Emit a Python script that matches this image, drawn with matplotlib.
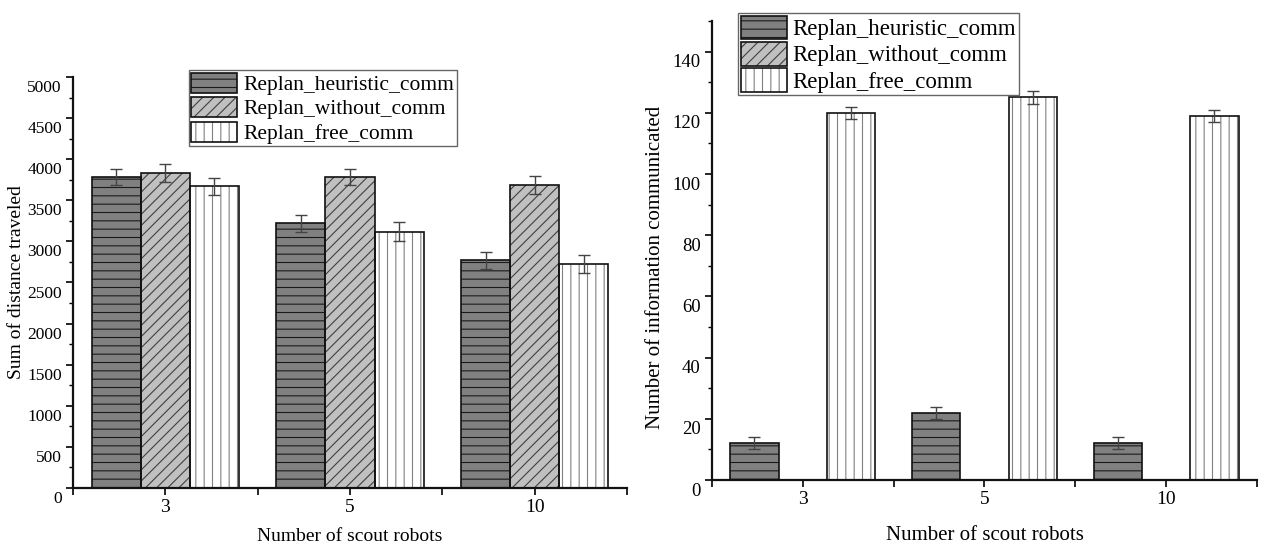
import numpy as np
import matplotlib.pyplot as plt
from matplotlib.ticker import MultipleLocator
from matplotlib.transforms import ScaledTranslation

plt.rcParams['font.family'] = 'Liberation Serif'
plt.rcParams['hatch.linewidth'] = 0.8

# data
groups = ['3', '5', '10']
series = ['Replan_heuristic_comm', 'Replan_without_comm', 'Replan_free_comm']

dist_heuristic = [3780, 3220, 2770]
dist_without = [3830, 3780, 3690]
dist_free = [3670, 3120, 2720]
dist_err_heuristic = [100, 100, 100]
dist_err_without = [110, 100, 110]
dist_err_free = [100, 110, 110]

comm_heuristic = [12, 22, 12]
comm_without = [0, 0, 0]
comm_free = [120, 125, 119]
comm_err_heuristic = [2, 2, 2]
comm_err_without = [0, 0, 0]
comm_err_free = [2, 2, 2]

# bar styles
fills = ['#808080', '#c0c0c0', 'white']
hatches = ['--', '///', '||']
hatch_colors = ['#1a1a1a', '#404040', '#808080']


def draw_panel(ax, values, errors, ymax, major, minor, fs_xtick, fs_ytick,
               fs_label, fs_leg, ylabel, ylabel_pos, xlabel_y, leg_anchor,
               leg_geom):
    x = np.arange(len(groups))
    width = 0.266
    handles = []
    for i, (vals, errs) in enumerate(zip(values, errors)):
        pos = x + (i - 1) * width
        under = ax.bar(pos, vals, width, color=fills[i], hatch=hatches[i],
                       edgecolor=hatch_colors[i], linewidth=0, zorder=2)
        edge = ax.bar(pos, vals, width, fill=False, edgecolor='#111111',
                      linewidth=1.2, zorder=3)
        if any(errs):
            ax.errorbar(pos, vals, yerr=errs, fmt='none', ecolor='#444444',
                        elinewidth=1, capsize=4, capthick=1, zorder=4)
        handles.append((under[0], edge[0]))

    # axes look
    for side in ['top', 'right']:
        ax.spines[side].set_visible(False)
    for side in ['left', 'bottom']:
        ax.spines[side].set_linewidth(1.6)
        ax.spines[side].set_color('#111111')

    ax.set_xlim(-0.5, 2.5)
    ax.set_xticks(x, groups)
    ax.set_xticks([-0.5, 0.5, 1.5, 2.5], minor=True)
    ax.set_ylim(0, ymax)
    ax.set_yticks(np.arange(0, ymax + 1, major))
    ax.yaxis.set_minor_locator(MultipleLocator(minor))
    ax.tick_params(axis='x', which='both', direction='out', length=5,
                   width=1.2, labelsize=fs_xtick, pad=3)
    ax.tick_params(axis='y', which='major', direction='out', length=5,
                   width=1.2, labelsize=fs_ytick, pad=3)
    ax.tick_params(axis='y', which='minor', direction='out', length=3,
                   width=1.0)

    # y tick labels sit a bit below their ticks in the original
    offset = ScaledTranslation(0, -6.5 / 72, ax.figure.dpi_scale_trans)
    for t in ax.yaxis.get_major_ticks():
        t.label1.set_transform(t.label1.get_transform() + offset)

    ax.set_ylabel(ylabel, fontsize=fs_label)
    ax.yaxis.set_label_coords(*ylabel_pos)
    ax.set_xlabel('Number of scout robots', fontsize=fs_label)
    ax.xaxis.set_label_coords(0.5, xlabel_y)

    hl, hh, ls, htp = leg_geom
    leg = ax.legend(handles, series, loc='upper left', bbox_to_anchor=leg_anchor,
                    borderaxespad=0, fancybox=False, framealpha=1,
                    edgecolor='#666666', fontsize=fs_leg, handlelength=hl,
                    handleheight=hh, labelspacing=ls, handletextpad=htp,
                    borderpad=0.12)
    leg.get_frame().set_linewidth(1.0)


fig = plt.figure(figsize=(12.61, 5.48), dpi=100)
ax1 = fig.add_axes([0.0579, 0.1095, 0.4393, 0.75])
ax2 = fig.add_axes([0.5646, 0.1241, 0.4322, 0.8376])

draw_panel(ax1,
           [dist_heuristic, dist_without, dist_free],
           [dist_err_heuristic, dist_err_without, dist_err_free],
           5000, 500, 250, 14, 12.5, 14, 15.5,
           'Sum of distance traveled', (-0.086, 0.5), -0.098,
           (0.209, 1.017), (2.1, 1.05, 0.1, 0.33))

draw_panel(ax2,
           [comm_heuristic, comm_without, comm_free],
           [comm_err_heuristic, comm_err_without, comm_err_free],
           150, 20, 10, 14, 13.5, 15, 16.5,
           'Number of information communicated', (-0.086, 0.464), -0.10,
           (0.048, 1.017), (2.0, 1.2, 0.07, 0.26))

fig.savefig('out.png', dpi=100)
